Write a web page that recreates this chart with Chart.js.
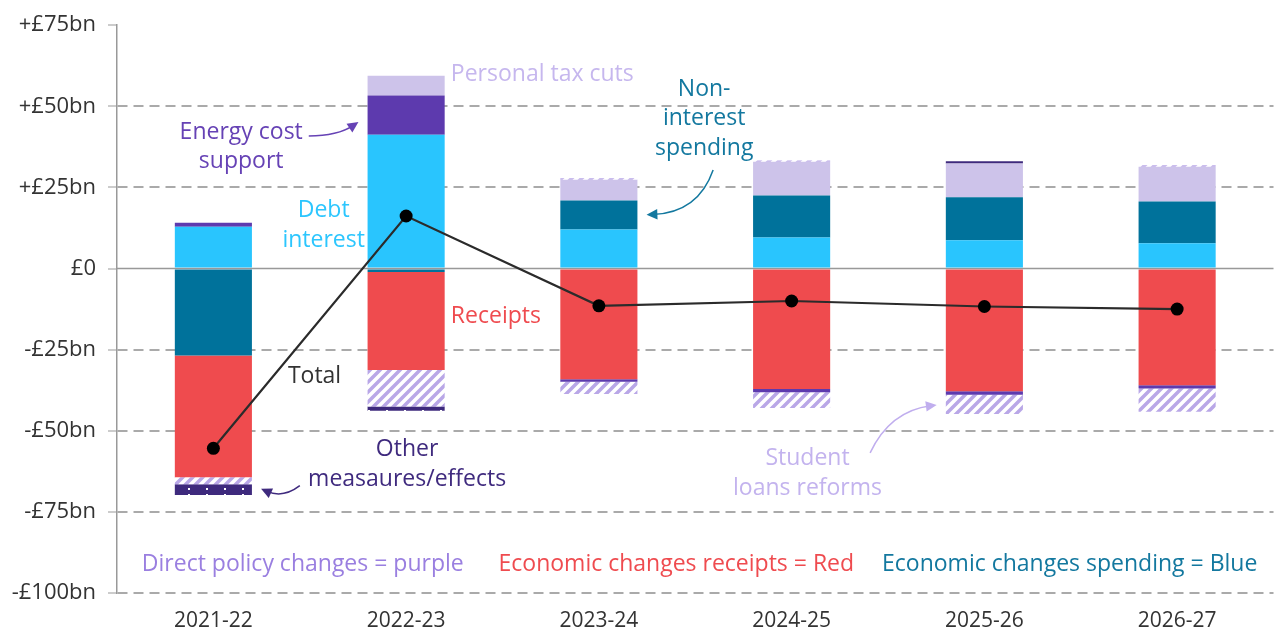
<!DOCTYPE html>
<html>
<head>
<meta charset="utf-8">
<script src="https://cdn.jsdelivr.net/npm/chart.js"></script>
<style>
  body { margin: 0; background: #fff; }
  #wrap { width: 1280px; height: 634px; }
</style>
</head>
<body>
<div id="wrap"><canvas id="myChart" width="1280" height="634"></canvas></div>
<script>
// data (£bn)
const categories = ['2021-22', '2022-23', '2023-24', '2024-25', '2025-26', '2026-27'];
const debtInterest = [12.9, 41.2, 12.0, 9.6, 8.7, 7.8];
const nonInterestSpending = [-26.8, -1.1, 9.0, 12.9, 13.3, 12.9];
const receipts = [-37.5, -30.2, -34.1, -37.1, -37.8, -36.0];
const energySupport = [1.2, 12.1, -0.8, -1.0, -1.1, -1.0];
const personalTaxCuts = [null, 6.1, 6.4, 10.4, 10.4, 10.7];
const otherPolicy = [null, null, 0.4, 0.4, null, 0.4];
const studentLoans = [-2.2, -11.2, -3.8, -4.9, -5.9, -7.1];
const otherMeasures = [-3.3, -1.3, null, null, 0.7, null];
const total = [-55.4, 16.2, -11.5, -10.0, -11.7, -12.5];
const yTicks = [-100, -75, -50, -25, 0, 25, 50, 75];

const FONT = '"Open Sans", Roboto, sans-serif';

function hatch() {
    const c = document.createElement('canvas');
    c.width = 10; c.height = 10;
    const g = c.getContext('2d');
    g.fillStyle = '#fff';
    g.fillRect(0, 0, 10, 10);
    g.strokeStyle = '#b9a7e7';
    g.lineWidth = 3.5;
    g.beginPath();
    g.moveTo(-2, 12); g.lineTo(12, -2);
    g.moveTo(-7, 7); g.lineTo(7, -7);
    g.moveTo(3, 17); g.lineTo(17, 3);
    g.stroke();
    return g.createPattern(c, 'repeat');
}

function dots() {
    const c = document.createElement('canvas');
    c.width = 18; c.height = 6;
    const g = c.getContext('2d');
    g.fillStyle = '#3e2a7d';
    g.fillRect(0, 0, 18, 6);
    g.fillStyle = '#fff';
    g.fillRect(8, 2, 2, 2);
    return g.createPattern(c, 'repeat');
}

// text notes, placed in reference pixel terms and mapped through the scales
const notes = [
    { lines: ['Personal tax cuts'], color: '#c6b7ee', x: 451, y: 72, align: 'left' },
    { lines: ['Energy cost', 'support'], color: '#6642b5', x: 240, y: 130, align: 'center' },
    { lines: ['Debt', 'interest'], color: '#2cc6fe', x: 323, y: 209, align: 'center' },
    { lines: ['Non-', 'interest', 'spending'], color: '#13789f', x: 706, y: 87, align: 'center' },
    { lines: ['Receipts'], color: '#ef4b4f', x: 451, y: 315, align: 'left' },
    { lines: ['Total'], color: '#333', x: 287, y: 375, align: 'left' },
    { lines: ['Other', 'measaures/effects'], color: '#3f2a7e', x: 407, y: 449, align: 'center' },
    { lines: ['Student', 'loans reforms'], color: '#c3b3ee', x: 810, y: 458, align: 'center' },
    { lines: ['Direct policy changes = purple'], color: '#9a7fe0', x: 140, y: 564, align: 'left' },
    { lines: ['Economic changes receipts = Red'], color: '#ef4b4f', x: 499, y: 564, align: 'left' },
    { lines: ['Economic changes spending = Blue'], color: '#13789f', x: 885, y: 564, align: 'left' }
];

const arrows = [
    { from: [308, 134], ctrl: [337, 134], to: [358, 120], color: '#6642b5' },
    { from: [715, 168], ctrl: [700, 211], to: [648, 213], color: '#13789f' },
    { from: [299, 485], ctrl: [282, 498], to: [260, 488], color: '#3f2a7e' },
    { from: [873, 452], ctrl: [893, 410], to: [940, 404], color: '#c0aeee' }
];

const notesPlugin = {
    id: 'notes',
    beforeDatasetsDraw(chart) {
        const { ctx, chartArea, scales: { y } } = chart;
        const zy = y.getPixelForValue(0);
        ctx.save();
        ctx.strokeStyle = '#999';
        ctx.lineWidth = 1.5;
        ctx.beginPath();
        ctx.moveTo(chartArea.left, zy);
        ctx.lineTo(chartArea.right, zy);
        ctx.stroke();
        ctx.restore();
    },
    afterDraw(chart) {
        const { ctx, scales: { x, y } } = chart;
        const x0 = x.getPixelForValue(0);
        const step = x.getPixelForValue(1) - x0;
        const P = (px, py) => [x0 + step * (px - 212) / 194, y.getPixelForValue((267 - py) / 3.257)];

        ctx.save();
        ctx.font = '23px ' + FONT;
        ctx.textBaseline = 'middle';
        notes.forEach(n => {
            ctx.fillStyle = n.color;
            ctx.textAlign = n.align;
            n.lines.forEach((t, i) => {
                const p = P(n.x, n.y + i * 29.5);
                ctx.fillText(t, p[0], p[1]);
            });
        });

        arrows.forEach(a => {
            const f = P(a.from[0], a.from[1]), c = P(a.ctrl[0], a.ctrl[1]), t = P(a.to[0], a.to[1]);
            const ang = Math.atan2(t[1] - c[1], t[0] - c[0]);
            const back = [t[0] - Math.cos(ang) * 6, t[1] - Math.sin(ang) * 6];
            ctx.strokeStyle = a.color;
            ctx.fillStyle = a.color;
            ctx.lineWidth = 1.5;
            ctx.beginPath();
            ctx.moveTo(f[0], f[1]);
            ctx.quadraticCurveTo(c[0], c[1], back[0], back[1]);
            ctx.stroke();
            ctx.beginPath();
            ctx.moveTo(t[0], t[1]);
            ctx.lineTo(t[0] - Math.cos(ang - 0.45) * 12, t[1] - Math.sin(ang - 0.45) * 12);
            ctx.lineTo(t[0] - Math.cos(ang + 0.45) * 12, t[1] - Math.sin(ang + 0.45) * 12);
            ctx.closePath();
            ctx.fill();
        });
        ctx.restore();
    }
};

const bar = (label, data, color) => ({
    type: 'bar', label, data, backgroundColor: color, borderWidth: 0, order: 1, stack: 'bars'
});

new Chart(document.getElementById('myChart'), {
    data: {
        labels: categories,
        datasets: [
            { type: 'line', label: 'Total', data: total, borderColor: '#2b2b2b', borderWidth: 2.2,
              pointRadius: 6.5, pointBackgroundColor: '#000', pointBorderWidth: 0, order: 0, stack: 'total' },
            bar('Debt interest', debtInterest, '#29c5fe'),
            bar('Non-interest spending', nonInterestSpending, '#00729b'),
            bar('Receipts', receipts, '#ef4b4e'),
            bar('Energy cost support', energySupport, '#5d3aae'),
            bar('Personal tax cuts', personalTaxCuts, '#cdc3ea'),
            bar('Other policy', otherPolicy, hatch()),
            bar('Student loans reforms', studentLoans, hatch()),
            bar('Other measures/effects', otherMeasures, dots())
        ]
    },
    options: {
        responsive: false,
        animation: false,
        categoryPercentage: 0.4,
        barPercentage: 1,
        layout: { padding: { top: 23, right: 0, left: 0, bottom: 0 } },
        plugins: { legend: { display: false }, tooltip: { enabled: false } },
        scales: {
            x: {
                stacked: true,
                grid: { display: false },
                border: { display: false },
                ticks: { color: '#333', font: { family: FONT, size: 21 }, padding: 7 },
                afterFit(scale) { scale.height = 41; }
            },
            y: {
                stacked: true,
                min: -100,
                max: 75,
                afterBuildTicks(scale) { scale.ticks = yTicks.map(v => ({ value: v })); },
                ticks: {
                    color: '#333',
                    font: { family: FONT, size: 22 },
                    padding: 12,
                    callback: v => v > 0 ? '+£' + v + 'bn' : v < 0 ? '-£' + Math.abs(v) + 'bn' : '£0'
                },
                grid: {
                    color: c => (c.tick && (c.tick.value === 0 || c.tick.value === 75)) ? 'rgba(0,0,0,0)' : '#aaa',
                    lineWidth: 2,
                    tickColor: '#999',
                    tickWidth: 1,
                    tickLength: 9
                },
                border: { display: true, color: '#999', width: 1.5, dash: [10, 6] },
                afterFit(scale) { scale.width = 117; }
            }
        }
    },
    plugins: [notesPlugin]
});
</script>
</body>
</html>
